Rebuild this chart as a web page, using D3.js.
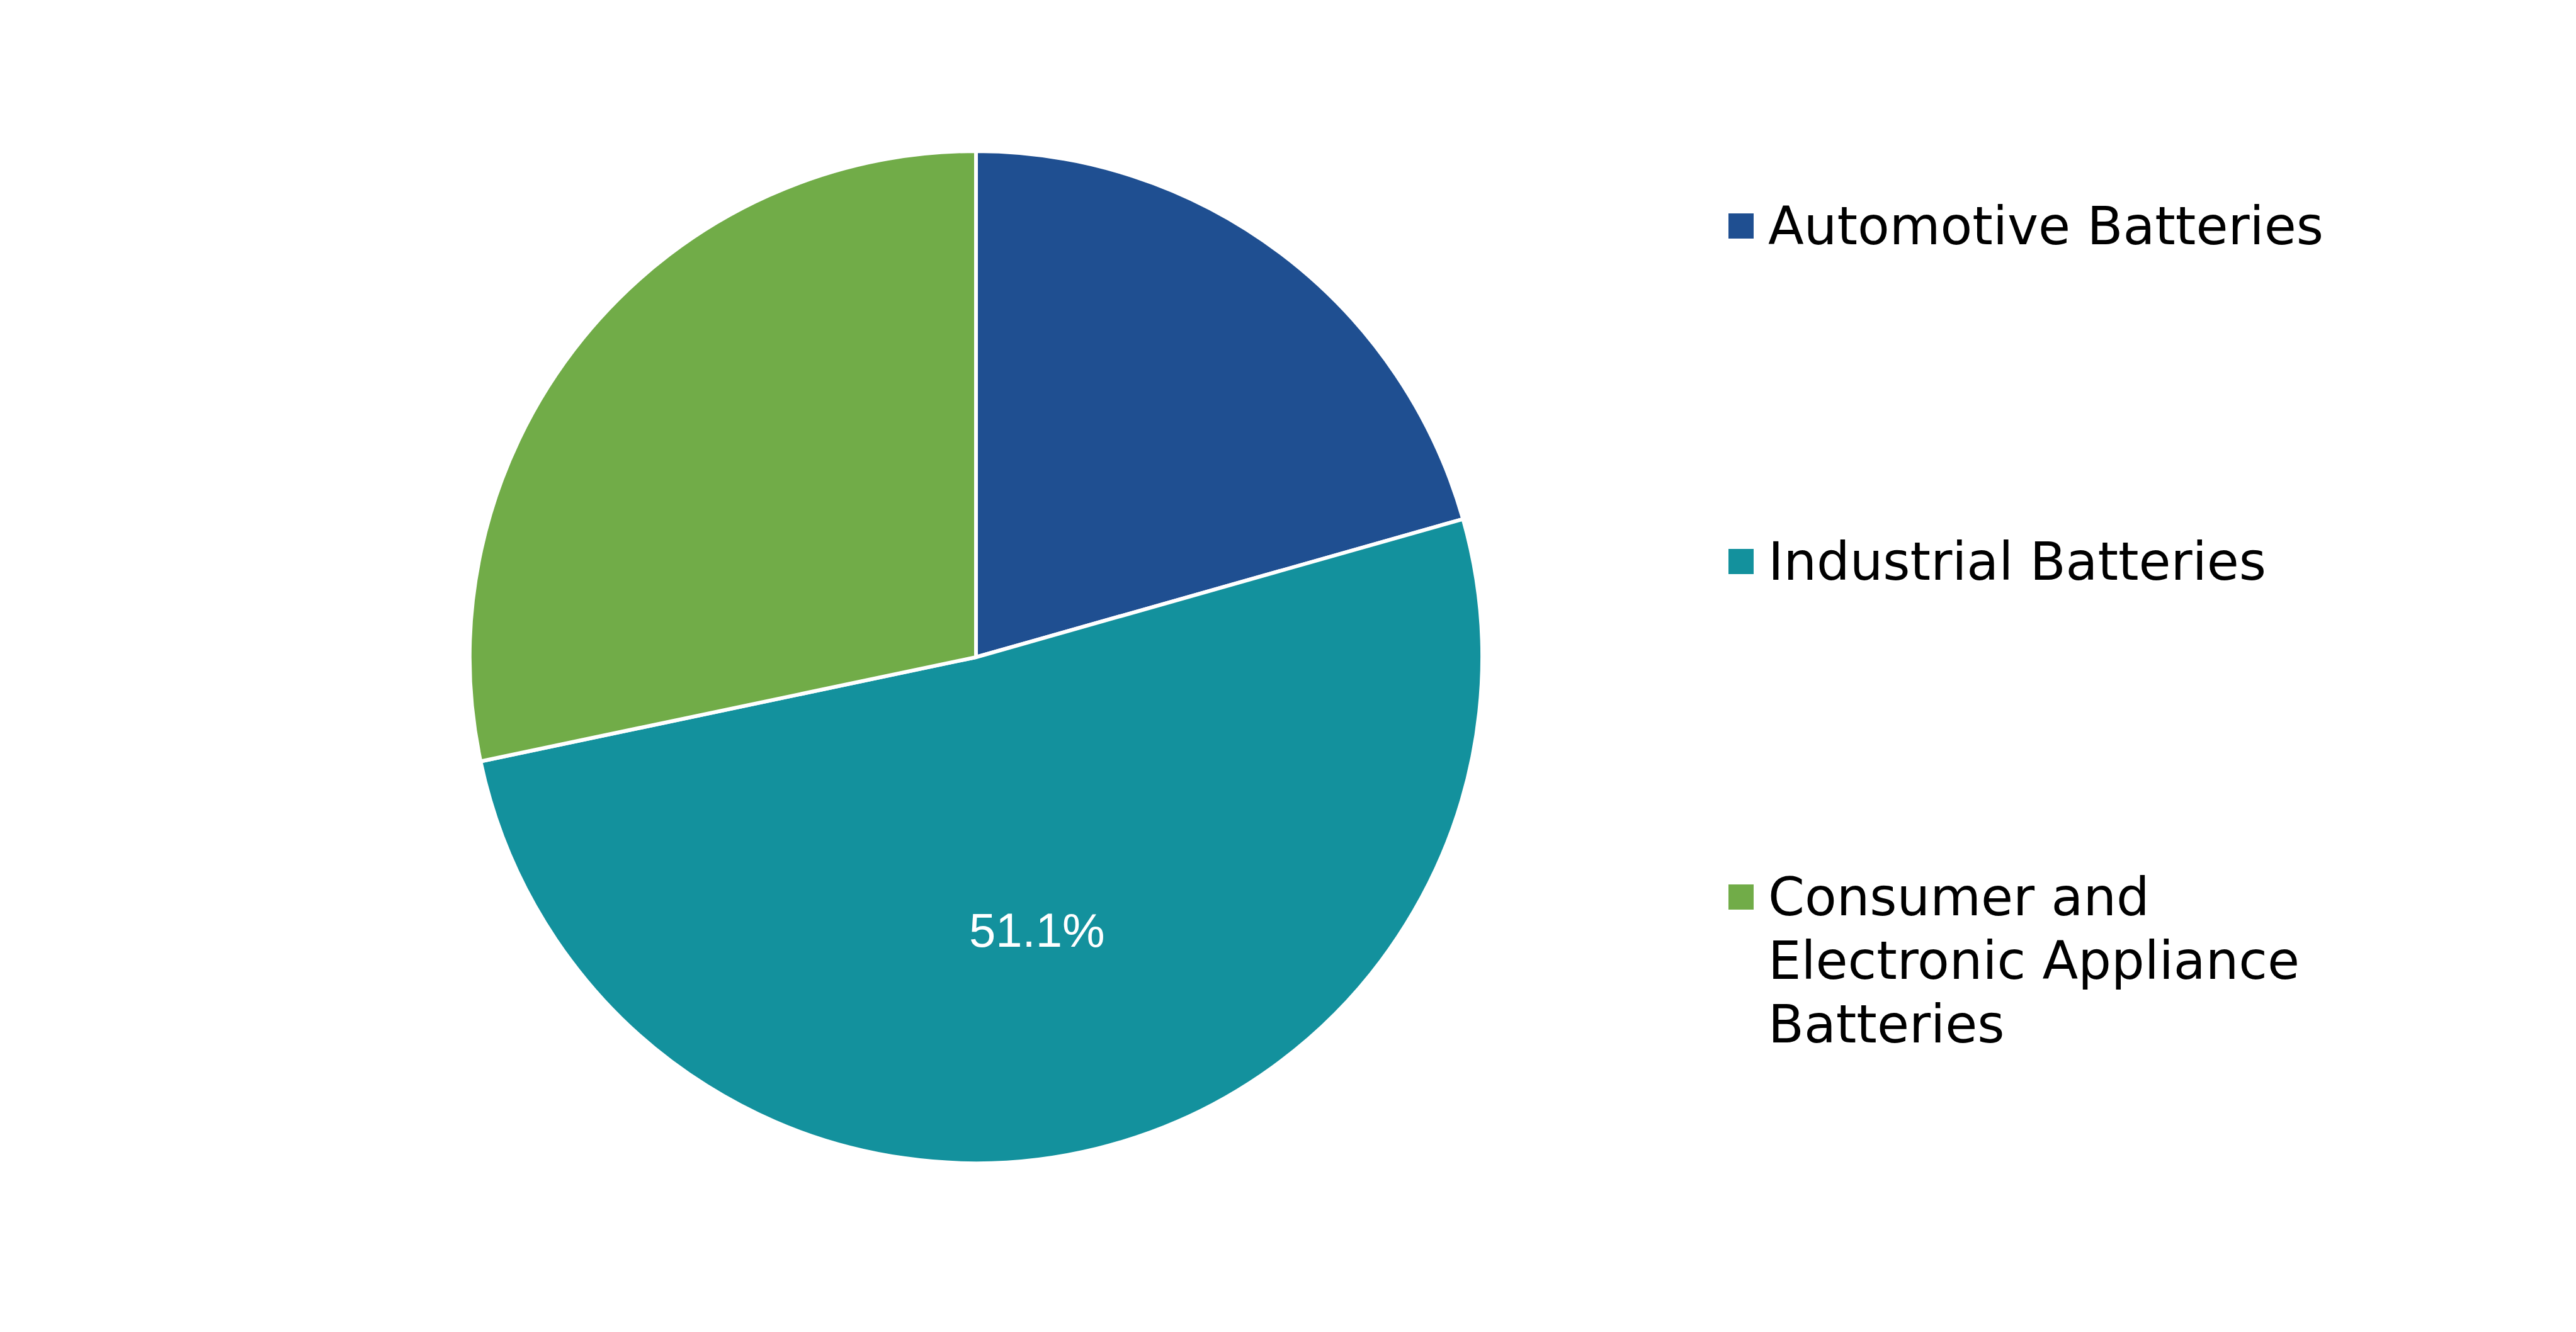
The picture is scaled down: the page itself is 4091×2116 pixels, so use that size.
<!DOCTYPE html>
<html>
<head>
<meta charset="utf-8">
<script src="https://cdn.jsdelivr.net/npm/d3@7"></script>
<style>
  html, body { margin: 0; padding: 0; background: #ffffff; }
  svg { display: block; }
</style>
</head>
<body>
<div id="chart"></div>
<script>
// data
var categories = ["Automotive Batteries", "Industrial Batteries", "Consumer and Electronic Appliance Batteries"];
var shares = [20.6, 51.1, 28.3];
var legendLines = [["Automotive Batteries"], ["Industrial Batteries"], ["Consumer and", "Electronic Appliance", "Batteries"]];
var labelledCategories = ["Industrial Batteries"];

var width = 4091;
var height = 2116;

var cx = 1550, cy = 1044, radius = 804;
var labelRadius = 446;

var colour = d3.scaleOrdinal()
    .domain(categories)
    .range(["#1f4f91", "#13919d", "#71ac48"]);

var svg = d3.select("#chart").append("svg")
    .attr("width", width)
    .attr("height", height);

var pie = d3.pie().sort(null).value(function (d) { return d.value; });
var rows = categories.map(function (c, i) { return { name: c, value: shares[i] }; });
var arcs = pie(rows);

var arc = d3.arc().innerRadius(0).outerRadius(radius);
var labelArc = d3.arc().innerRadius(labelRadius).outerRadius(labelRadius);

var g = svg.append("g").attr("transform", "translate(" + cx + "," + cy + ")");

// slices
g.selectAll("path.slice").data(arcs).enter().append("path")
    .attr("class", "slice")
    .attr("d", arc)
    .attr("fill", function (d) { return colour(d.data.name); })
    .attr("stroke", "#ffffff")
    .attr("stroke-width", 6)
    .attr("stroke-linejoin", "round");

// data label (only the big slice carries one)
g.selectAll("text.value").data(arcs.filter(function (d) {
        return labelledCategories.indexOf(d.data.name) >= 0;
    }))
    .enter().append("text")
    .attr("class", "value")
    .attr("transform", function (d) { return "translate(" + labelArc.centroid(d) + ")"; })
    .attr("text-anchor", "middle")
    .attr("dx", -10)
    .attr("dy", "0.36em")
    .attr("fill", "#ffffff")
    .style("font-family", "Arial, 'Liberation Sans', sans-serif")
    .style("font-size", "76px")
    .text(function (d) { return d3.format(".1f")(d.value) + "%"; });

// legend
var legendX = 2745, markerSize = 40, textX = 2808;
var legendY = d3.scalePoint().domain(categories).range([359, 1425]);
var lineHeight = 101;

var legend = svg.append("g").attr("class", "legend");
var item = legend.selectAll("g.item").data(categories).enter().append("g")
    .attr("class", "item")
    .attr("transform", function (d) { return "translate(0," + legendY(d) + ")"; });

item.append("rect")
    .attr("x", legendX)
    .attr("y", -markerSize / 2)
    .attr("width", markerSize)
    .attr("height", markerSize)
    .attr("fill", function (d) { return colour(d); });

item.append("text")
    .attr("x", textX)
    .attr("y", 29)
    .attr("fill", "#000000")
    .style("font-family", "Verdana, 'DejaVu Sans', sans-serif")
    .style("font-size", "83px")
    .selectAll("tspan")
    .data(function (d, i) { return legendLines[categories.indexOf(d)]; })
    .enter().append("tspan")
    .attr("x", textX)
    .attr("dy", function (d, i) { return i === 0 ? 0 : lineHeight; })
    .text(function (d) { return d; });
</script>
</body>
</html>
